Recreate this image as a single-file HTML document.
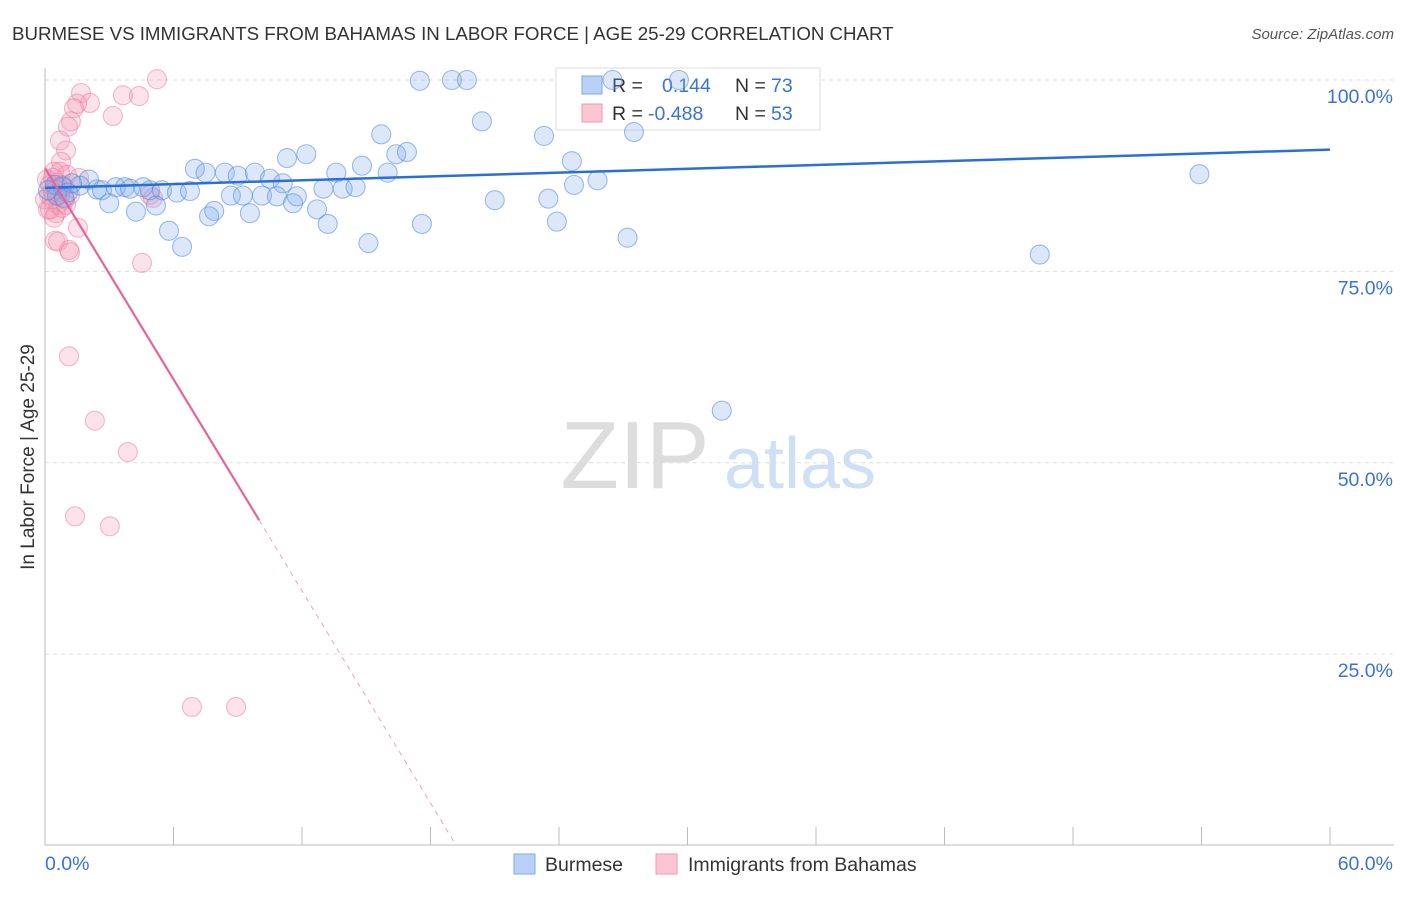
<!DOCTYPE html>
<html><head><meta charset="utf-8"><style>
body{margin:0;background:#fff;font-family:"Liberation Sans",sans-serif}
svg text{font-family:"Liberation Sans",sans-serif}
</style></head><body>
<svg id="chart" width="1406" height="892" xmlns="http://www.w3.org/2000/svg">
<text x="12" y="40" font-size="18.7" fill="#333">BURMESE VS IMMIGRANTS FROM BAHAMAS IN LABOR FORCE | AGE 25-29 CORRELATION CHART</text>
<text x="1394" y="39" font-size="15" fill="#555" text-anchor="end" font-style="italic">Source: ZipAtlas.com</text>
<g>
<text x="635" y="488" font-size="96" fill="#ddd" font-family="Liberation Serif,serif" text-anchor="middle">ZIP</text>
<text x="800" y="488" font-size="72" fill="#cfdff5" text-anchor="middle">atlas</text>
</g>
<g id="grid"></g>
<g id="axes"></g>
<g>
<rect x="556" y="68" width="264" height="62" fill="#fff" stroke="#ddd"/>
<rect x="582" y="76" width="20" height="18" fill="#b8d1f5" stroke="#7fa8e8"/>
<text x="612" y="92" font-size="19.5" fill="#333">R =</text>
<text x="662" y="92" font-size="19.5" fill="#3a72d8">0.144</text>
<text x="735" y="92" font-size="19.5" fill="#333">N =</text>
<text x="771" y="92" font-size="19.5" fill="#3a72d8">73</text>
<rect x="582" y="104" width="20" height="18" fill="#fbc5d4" stroke="#f09ab3"/>
<text x="612" y="120" font-size="19.5" fill="#333">R =</text>
<text x="648" y="120" font-size="19.5" fill="#3a72d8">-0.488</text>
<text x="735" y="120" font-size="19.5" fill="#333">N =</text>
<text x="771" y="120" font-size="19.5" fill="#3a72d8">53</text>
</g>
<g id="marks"></g>
<g id="trends"></g>
<g>
<rect x="514" y="854" width="21" height="20" fill="#b8d1f5" stroke="#7fa8e8"/>
<text x="545" y="871" font-size="19.5" fill="#333">Burmese</text>
<rect x="656" y="854" width="21" height="20" fill="#fbc5d4" stroke="#f09ab3"/>
<text x="688" y="871" font-size="19.5" fill="#333">Immigrants from Bahamas</text>
</g>
<text transform="translate(34,457) rotate(-90)" font-size="19" fill="#333" text-anchor="middle">In Labor Force | Age 25-29</text>
</svg>
<script>
const yTicks=[100,75,50,25];
const yTickLabels=["100.0%","75.0%","50.0%","25.0%"];
const xTickLabels=["0.0%","60.0%"];
const blueX=[17.5,19.0,19.7,26.5,29.6,20.4,15.7,23.3,27.5,24.6,16.4,16.9,11.3,12.2,7.0,7.5,8.4,9.0,9.8,10.5,11.1,13.6,14.8,16.0,2.05,0.47,0.8,1.63,2.43,2.66,3.31,3.73,3.97,4.58,4.9,5.46,6.16,6.77,8.68,9.24,10.13,10.83,11.76,13.0,13.9,14.5,24.7,25.8,53.9,46.45,31.6,3.0,4.25,5.18,7.9,7.66,9.57,11.58,12.7,13.2,5.79,6.4,15.1,17.6,21.0,23.5,23.9,27.2,0.56,0.14,1.07,1.26,0.89];
const blueY=[99.9,100,100,100,100,94.6,92.9,92.7,93.2,89.4,90.3,90.6,89.8,90.3,88.4,87.9,87.9,87.5,87.9,87.1,86.5,87.9,88.8,87.9,87.0,86.3,86.1,86.2,85.7,85.6,86.0,86.0,85.8,86.0,85.6,85.6,85.3,85.5,84.9,84.9,84.9,84.8,84.8,85.8,85.8,86.0,86.3,86.9,87.7,77.2,56.8,83.9,82.8,83.6,82.9,82.2,82.6,83.9,83.1,81.2,80.3,78.2,78.7,81.2,84.3,84.5,81.5,79.4,84.9,85.6,85.3,86.5,84.6];
const pinkX=[5.23,1.68,3.64,4.39,2.1,1.5,1.35,3.17,1.21,1.07,0.7,0.98,0.75,0.42,1.03,1.59,0.09,0.23,0.47,0.7,0.33,0.61,0.14,0.79,0.93,1.17,0.51,1.54,0.47,0.61,1.12,1.17,4.9,5.04,4.53,1.12,2.33,3.87,1.4,3.03,6.86,8.92,0.42,0.79,0.19,0.37,0.89,0,0.23,0.56,0.7,0.37,0.98];
const pinkY=[100.1,98.3,98.0,97.9,97.0,96.9,96.3,95.3,94.6,93.9,92.1,90.8,89.3,88.0,87.6,87.2,87.0,86.3,85.7,85.0,84.4,83.7,83.1,86.3,84.4,85.0,82.6,80.7,79.0,78.9,77.8,77.5,85.0,84.6,76.1,63.9,55.5,51.4,43.0,41.7,18.1,18.1,82.0,83.3,85.0,87.2,86.0,84.4,83.1,86.6,88.0,85.4,83.7];
const blueTrend=[[0,85.9],[60,90.9]];
const pinkTrendSolid=[[0,88.5],[10,42.5]];
const pinkTrendDash=[[10,42.5],[19.2,0]];
const NS="http://www.w3.org/2000/svg";
const X0=45,X1=1330,YB=845.5,YT=80;
const sx=v=>X0+v*(X1-X0)/60;
const sy=v=>YB-v*(YB-YT)/100;
function mk(t,a,p){const e=document.createElementNS(NS,t);for(const k in a)e.setAttribute(k,a[k]);p.appendChild(e);return e;}
const grid=document.getElementById('grid'),axes=document.getElementById('axes'),marks=document.getElementById('marks'),trends=document.getElementById('trends');
yTicks.forEach((t,i)=>{
 const l=mk('line',{x1:X0,x2:1394,y1:sy(t),y2:sy(t),stroke:'#ddd','stroke-dasharray':'4,4'},grid);
 
 
 const tx=mk('text',{x:1393,y:sy(t)+23,'font-size':19.5,fill:'#3a72d8','text-anchor':'end'},axes);
 tx.textContent=yTickLabels[i];
 
 
});
const ya=mk('line',{x1:X0,x2:X0,y1:68,y2:845,stroke:'#bbb'},axes);


const xa=mk('line',{x1:X0,x2:1394,y1:845,y2:845,stroke:'#bbb'},axes);


for(let i=0;i<=10;i++){
 const t=mk('line',{x1:sx(i*6),x2:sx(i*6),y1:827,y2:845,stroke:'#bbb'},axes);
 
 
}
const xl0=mk('text',{x:45,y:870,'font-size':19.5,fill:'#3a72d8'},axes);xl0.textContent=xTickLabels[0];


const xl1=mk('text',{x:1393,y:870,'font-size':19.5,fill:'#3a72d8','text-anchor':'end'},axes);xl1.textContent=xTickLabels[1];


function pts(xs,ys,fill,stroke,name){xs.forEach((x,i)=>{
 const c=mk('circle',{cx:sx(x),cy:sy(ys[i]),r:9.5,fill:fill,stroke:stroke,'stroke-width':1.1},marks);
 
 
});}
pts(pinkX,pinkY,'rgba(245,150,180,0.28)','rgba(235,120,160,0.5)','bahamas-point');
pts(blueX,blueY,'rgba(130,172,238,0.28)','rgba(80,135,222,0.55)','burmese-point');
function ln(p,st,w,dash,name){const l=mk('line',{x1:sx(p[0][0]),y1:sy(p[0][1]),x2:sx(p[1][0]),y2:sy(p[1][1]),stroke:st,'stroke-width':w},trends);
 if(dash)l.setAttribute('stroke-dasharray',dash);
 
 }
ln(blueTrend,'#2a6fd6',2.5,null,'burmese-trendline');
ln(pinkTrendSolid,'#e8639a',2.2,null,'bahamas-trendline');
ln(pinkTrendDash,'#f0a0c0',1,'5,5','bahamas-trendline-extension');
</script>
</body></html>
